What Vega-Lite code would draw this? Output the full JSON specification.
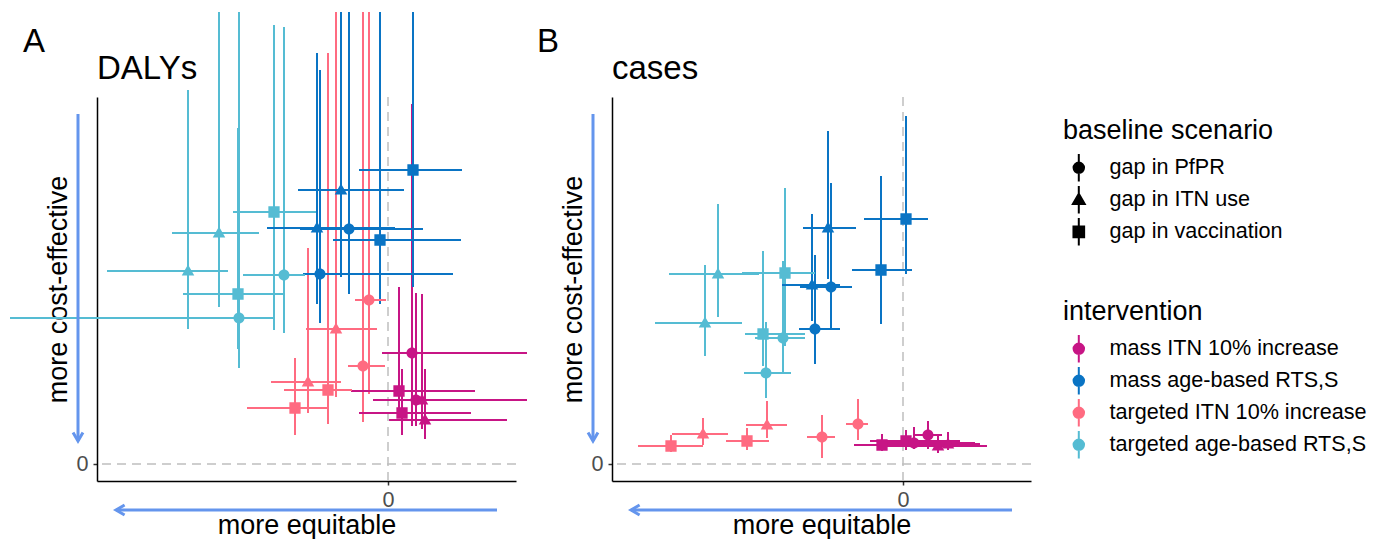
{
  "$schema": "https://vega.github.io/schema/vega-lite/v6.json",
  "padding": {"left": 9, "top": 10, "right": 340, "bottom": 0},
  "autosize": {"type": "pad"},
  "bounds": "flush",
  "spacing": 96,
  "datasets": {
    "pts": [
      {"panel": "DALYs", "intervention": "mass ITN 10% increase", "scenario": "gap in PfPR", "x": 24, "y": 111, "xlo": -6, "xhi": 139, "ylo": 38, "yhi": 360},
      {"panel": "DALYs", "intervention": "mass ITN 10% increase", "scenario": "gap in PfPR", "x": 28, "y": 64, "xlo": -15, "xhi": 139, "ylo": 38, "yhi": 171},
      {"panel": "DALYs", "intervention": "mass ITN 10% increase", "scenario": "gap in vaccination", "x": 11, "y": 73, "xlo": -37, "xhi": 87, "ylo": 53, "yhi": 177},
      {"panel": "DALYs", "intervention": "mass ITN 10% increase", "scenario": "gap in vaccination", "x": 14, "y": 51, "xlo": -29, "xhi": 83, "ylo": 29, "yhi": 95},
      {"panel": "DALYs", "intervention": "mass ITN 10% increase", "scenario": "gap in ITN use", "x": 34, "y": 64, "xlo": -8, "xhi": 104, "ylo": 35, "yhi": 170},
      {"panel": "DALYs", "intervention": "mass ITN 10% increase", "scenario": "gap in ITN use", "x": 37, "y": 44, "xlo": 1, "xhi": 119, "ylo": 25, "yhi": 95},
      {"panel": "DALYs", "intervention": "mass age-based RTS,S", "scenario": "gap in vaccination", "x": 25, "y": 294, "xlo": -29, "xhi": 74, "ylo": 177, "yhi": 452},
      {"panel": "DALYs", "intervention": "mass age-based RTS,S", "scenario": "gap in vaccination", "x": -8, "y": 224, "xlo": -55, "xhi": 73, "ylo": 160, "yhi": 452},
      {"panel": "DALYs", "intervention": "mass age-based RTS,S", "scenario": "gap in ITN use", "x": -47, "y": 274, "xlo": -90, "xhi": 16, "ylo": 187, "yhi": 452},
      {"panel": "DALYs", "intervention": "mass age-based RTS,S", "scenario": "gap in ITN use", "x": -71, "y": 236, "xlo": -121, "xhi": 7, "ylo": 160, "yhi": 411},
      {"panel": "DALYs", "intervention": "mass age-based RTS,S", "scenario": "gap in PfPR", "x": -39, "y": 235, "xlo": -88, "xhi": 35, "ylo": 170, "yhi": 452},
      {"panel": "DALYs", "intervention": "mass age-based RTS,S", "scenario": "gap in PfPR", "x": -68, "y": 190, "xlo": -85, "xhi": 65, "ylo": 141, "yhi": 394},
      {"panel": "DALYs", "intervention": "targeted ITN 10% increase", "scenario": "gap in PfPR", "x": -19, "y": 164, "xlo": -33, "xhi": -2, "ylo": 70, "yhi": 452},
      {"panel": "DALYs", "intervention": "targeted ITN 10% increase", "scenario": "gap in PfPR", "x": -25, "y": 98, "xlo": -40, "xhi": -3, "ylo": 42, "yhi": 452},
      {"panel": "DALYs", "intervention": "targeted ITN 10% increase", "scenario": "gap in ITN use", "x": -52, "y": 135, "xlo": -82, "xhi": -11, "ylo": 67, "yhi": 452},
      {"panel": "DALYs", "intervention": "targeted ITN 10% increase", "scenario": "gap in ITN use", "x": -80, "y": 82, "xlo": -117, "xhi": -47, "ylo": 51, "yhi": 216},
      {"panel": "DALYs", "intervention": "targeted ITN 10% increase", "scenario": "gap in vaccination", "x": -60, "y": 74, "xlo": -104, "xhi": -36, "ylo": 40, "yhi": 411},
      {"panel": "DALYs", "intervention": "targeted ITN 10% increase", "scenario": "gap in vaccination", "x": -93, "y": 56, "xlo": -141, "xhi": -59, "ylo": 29, "yhi": 106},
      {"panel": "DALYs", "intervention": "targeted age-based RTS,S", "scenario": "gap in ITN use", "x": -200, "y": 193, "xlo": -281, "xhi": -160, "ylo": 135, "yhi": 374},
      {"panel": "DALYs", "intervention": "targeted age-based RTS,S", "scenario": "gap in ITN use", "x": -169, "y": 231, "xlo": -216, "xhi": -129, "ylo": 157, "yhi": 452},
      {"panel": "DALYs", "intervention": "targeted age-based RTS,S", "scenario": "gap in vaccination", "x": -114, "y": 252, "xlo": -155, "xhi": -72, "ylo": 134, "yhi": 439},
      {"panel": "DALYs", "intervention": "targeted age-based RTS,S", "scenario": "gap in vaccination", "x": -150, "y": 170, "xlo": -205, "xhi": -105, "ylo": 115, "yhi": 336},
      {"panel": "DALYs", "intervention": "targeted age-based RTS,S", "scenario": "gap in PfPR", "x": -104, "y": 189, "xlo": -145, "xhi": -83, "ylo": 131, "yhi": 437},
      {"panel": "DALYs", "intervention": "targeted age-based RTS,S", "scenario": "gap in PfPR", "x": -149, "y": 146, "xlo": -378, "xhi": -115, "ylo": 96, "yhi": 452},
      {"panel": "cases", "intervention": "mass ITN 10% increase", "scenario": "gap in vaccination", "x": -21, "y": 19, "xlo": -49, "xhi": 37, "ylo": 13, "yhi": 30},
      {"panel": "cases", "intervention": "mass ITN 10% increase", "scenario": "gap in vaccination", "x": 3, "y": 23, "xlo": -33, "xhi": 57, "ylo": 14, "yhi": 34},
      {"panel": "cases", "intervention": "mass ITN 10% increase", "scenario": "gap in PfPR", "x": 11, "y": 21, "xlo": -23, "xhi": 72, "ylo": 15, "yhi": 37},
      {"panel": "cases", "intervention": "mass ITN 10% increase", "scenario": "gap in PfPR", "x": 25, "y": 29, "xlo": 12, "xhi": 39, "ylo": 15, "yhi": 43},
      {"panel": "cases", "intervention": "mass ITN 10% increase", "scenario": "gap in ITN use", "x": 35, "y": 18, "xlo": -23, "xhi": 84, "ylo": 11, "yhi": 28},
      {"panel": "cases", "intervention": "mass ITN 10% increase", "scenario": "gap in ITN use", "x": 45, "y": 20, "xlo": 2, "xhi": 77, "ylo": 14, "yhi": 32},
      {"panel": "cases", "intervention": "mass age-based RTS,S", "scenario": "gap in vaccination", "x": 3, "y": 245, "xlo": -39, "xhi": 25, "ylo": 190, "yhi": 348},
      {"panel": "cases", "intervention": "mass age-based RTS,S", "scenario": "gap in vaccination", "x": -22, "y": 194, "xlo": -51, "xhi": 9, "ylo": 140, "yhi": 288},
      {"panel": "cases", "intervention": "mass age-based RTS,S", "scenario": "gap in ITN use", "x": -75, "y": 236, "xlo": -100, "xhi": -47, "ylo": 185, "yhi": 333},
      {"panel": "cases", "intervention": "mass age-based RTS,S", "scenario": "gap in ITN use", "x": -91, "y": 179, "xlo": -121, "xhi": -63, "ylo": 143, "yhi": 250},
      {"panel": "cases", "intervention": "mass age-based RTS,S", "scenario": "gap in PfPR", "x": -72, "y": 177, "xlo": -103, "xhi": -51, "ylo": 134, "yhi": 281},
      {"panel": "cases", "intervention": "mass age-based RTS,S", "scenario": "gap in PfPR", "x": -88, "y": 135, "xlo": -104, "xhi": -63, "ylo": 100, "yhi": 209},
      {"panel": "cases", "intervention": "targeted ITN 10% increase", "scenario": "gap in vaccination", "x": -232, "y": 18, "xlo": -265, "xhi": -200, "ylo": 12, "yhi": 29},
      {"panel": "cases", "intervention": "targeted ITN 10% increase", "scenario": "gap in vaccination", "x": -156, "y": 23, "xlo": -177, "xhi": -134, "ylo": 14, "yhi": 36},
      {"panel": "cases", "intervention": "targeted ITN 10% increase", "scenario": "gap in ITN use", "x": -200, "y": 30, "xlo": -231, "xhi": -175, "ylo": 19, "yhi": 46},
      {"panel": "cases", "intervention": "targeted ITN 10% increase", "scenario": "gap in ITN use", "x": -136, "y": 39, "xlo": -157, "xhi": -116, "ylo": 26, "yhi": 63},
      {"panel": "cases", "intervention": "targeted ITN 10% increase", "scenario": "gap in PfPR", "x": -81, "y": 27, "xlo": -96, "xhi": -68, "ylo": 6, "yhi": 49},
      {"panel": "cases", "intervention": "targeted ITN 10% increase", "scenario": "gap in PfPR", "x": -45, "y": 40, "xlo": -57, "xhi": -35, "ylo": 24, "yhi": 65},
      {"panel": "cases", "intervention": "targeted age-based RTS,S", "scenario": "gap in ITN use", "x": -185, "y": 190, "xlo": -234, "xhi": -144, "ylo": 147, "yhi": 260},
      {"panel": "cases", "intervention": "targeted age-based RTS,S", "scenario": "gap in ITN use", "x": -198, "y": 141, "xlo": -248, "xhi": -161, "ylo": 108, "yhi": 199},
      {"panel": "cases", "intervention": "targeted age-based RTS,S", "scenario": "gap in vaccination", "x": -118, "y": 191, "xlo": -161, "xhi": -88, "ylo": 118, "yhi": 276},
      {"panel": "cases", "intervention": "targeted age-based RTS,S", "scenario": "gap in vaccination", "x": -140, "y": 130, "xlo": -158, "xhi": -98, "ylo": 98, "yhi": 213},
      {"panel": "cases", "intervention": "targeted age-based RTS,S", "scenario": "gap in PfPR", "x": -120, "y": 126, "xlo": -148, "xhi": -98, "ylo": 91, "yhi": 203},
      {"panel": "cases", "intervention": "targeted age-based RTS,S", "scenario": "gap in PfPR", "x": -137, "y": 91, "xlo": -159, "xhi": -112, "ylo": 66, "yhi": 142}
    ]
  },
  "resolve": {"scale": {"color": "shared", "shape": "shared"}},
  "hconcat": [
    {
      "width": 419, "height": 384,
      "title": {"text": "DALYs", "offset": -75},
      "layer": [
        {"data": {"values": [{}]}, "mark": {"type": "rule", "color": "#BEBEBE", "strokeWidth": 1.5, "strokeDash": [9, 6]},
         "encoding": {"y": {"datum": 0, "type": "quantitative", "scale": {"domain": [-17, 367], "nice": false, "zero": false}, "axis": {"values": [0], "title": "more cost-effective"}}}},
        {"data": {"values": [{}]}, "mark": {"type": "rule", "color": "#BEBEBE", "strokeWidth": 1.5, "strokeDash": [9, 6]},
         "encoding": {"x": {"datum": 0, "type": "quantitative", "scale": {"domain": [-291, 128], "nice": false, "zero": false}, "axis": {"values": [0], "title": "more equitable"}}}},
        {"data": {"name": "pts"}, "transform": [{"filter": "datum.panel === 'DALYs'"}],
         "mark": {"type": "rule", "strokeWidth": 2, "clip": false},
         "encoding": {"x": {"field": "x", "type": "quantitative"}, "y": {"field": "ylo", "type": "quantitative"}, "y2": {"field": "yhi"},
           "color": {"field": "intervention", "type": "nominal", "title": "intervention",
             "scale": {"domain": ["mass ITN 10% increase", "mass age-based RTS,S", "targeted ITN 10% increase", "targeted age-based RTS,S"], "range": ["#C71585", "#0A74C4", "#FF6B81", "#55BCD3"]},
             "legend": {"orient": "none", "legendX": 966, "legendY": 202,
               "encode": {"symbols": {"update": {
                 "shape": {"value": "M0,-2.5L0,2.5M-0.95,0A0.95,0.95,0,1,1,0.95,0A0.95,0.95,0,1,1,-0.95,0Z"},
                 "stroke": {"scale": "color", "field": "value"}, "fill": {"scale": "color", "field": "value"},
                 "strokeWidth": {"value": 2}, "size": {"value": 121}, "opacity": {"value": 1}}}}}}}},
        {"data": {"name": "pts"}, "transform": [{"filter": "datum.panel === 'DALYs'"}],
         "mark": {"type": "rule", "strokeWidth": 2, "clip": false},
         "encoding": {"y": {"field": "y", "type": "quantitative"}, "x": {"field": "xlo", "type": "quantitative"}, "x2": {"field": "xhi"},
           "color": {"field": "intervention", "type": "nominal"}}},
        {"data": {"name": "pts"}, "transform": [{"filter": "datum.panel === 'DALYs'"}],
         "mark": {"type": "point", "filled": true, "opacity": 1, "size": 135, "clip": false},
         "encoding": {"x": {"field": "x", "type": "quantitative"}, "y": {"field": "y", "type": "quantitative"},
           "color": {"field": "intervention", "type": "nominal"},
           "shape": {"field": "scenario", "type": "nominal", "title": "baseline scenario",
             "scale": {"domain": ["gap in PfPR", "gap in ITN use", "gap in vaccination"],
               "range": ["M0,-2.5L0,2.5M-0.95,0A0.95,0.95,0,1,1,0.95,0A0.95,0.95,0,1,1,-0.95,0Z", "M0,-2.5L0,2.5M0,-1.12L1.08,0.76L-1.08,0.76Z", "M0,-2.5L0,2.5M-0.97,-0.97H0.97V0.97H-0.97Z"]},
             "legend": {"orient": "none", "legendX": 966, "legendY": 21,
               "symbolStrokeColor": "black", "symbolFillColor": "black", "symbolStrokeWidth": 2, "symbolSize": 121, "symbolOpacity": 1,
               "encode": {"symbols": {"update": {
                 "stroke": {"value": "black"}, "fill": {"value": "black"},
                 "strokeWidth": {"value": 2}, "size": {"value": 121}, "opacity": {"value": 1}}}}}}}},
        {"data": {"values": [{}]}, "mark": {"type": "rule", "color": "#6495ED", "strokeWidth": 3, "clip": false},
         "encoding": {"x": {"datum": -310, "type": "quantitative"}, "y": {"datum": 350, "type": "quantitative"}, "y2": {"datum": 23}}},
        {"data": {"values": [{}]}, "mark": {"type": "rule", "color": "#6495ED", "strokeWidth": 3, "clip": false},
         "encoding": {"y": {"datum": -46, "type": "quantitative"}, "x": {"datum": 109, "type": "quantitative"}, "x2": {"datum": -272}}},
        {"data": {"values": [{}]}, "mark": {"type": "point", "filled": false, "color": "#6495ED", "strokeWidth": 3, "opacity": 1, "size": 121, "clip": false, "shape": "M-0.9,-1.56L0,0L0.9,-1.56"},
         "encoding": {"x": {"datum": -310, "type": "quantitative"}, "y": {"datum": 23, "type": "quantitative"}}},
        {"data": {"values": [{}]}, "mark": {"type": "point", "filled": false, "color": "#6495ED", "strokeWidth": 3, "opacity": 1, "size": 121, "clip": false, "shape": "M1.56,-0.9L0,0L1.56,0.9"},
         "encoding": {"x": {"datum": -272, "type": "quantitative"}, "y": {"datum": -46, "type": "quantitative"}}},
        {"data": {"values": [{}]}, "mark": {"type": "text", "text": "A", "fontSize": 33, "align": "left", "baseline": "alphabetic", "color": "black", "clip": false},
         "encoding": {"x": {"datum": -365, "type": "quantitative"}, "y": {"datum": 412, "type": "quantitative"}}}
      ]
    },
    {
      "width": 419, "height": 384,
      "title": {"text": "cases", "offset": -60},
      "layer": [
        {"data": {"values": [{}]}, "mark": {"type": "rule", "color": "#BEBEBE", "strokeWidth": 1.5, "strokeDash": [9, 6]},
         "encoding": {"y": {"datum": 0, "type": "quantitative", "scale": {"domain": [-17, 367], "nice": false, "zero": false}, "axis": {"values": [0], "title": "more cost-effective"}}}},
        {"data": {"values": [{}]}, "mark": {"type": "rule", "color": "#BEBEBE", "strokeWidth": 1.5, "strokeDash": [9, 6]},
         "encoding": {"x": {"datum": 0, "type": "quantitative", "scale": {"domain": [-291, 128], "nice": false, "zero": false}, "axis": {"values": [0], "title": "more equitable"}}}},
        {"data": {"name": "pts"}, "transform": [{"filter": "datum.panel === 'cases'"}],
         "mark": {"type": "rule", "strokeWidth": 2, "clip": false},
         "encoding": {"x": {"field": "x", "type": "quantitative"}, "y": {"field": "ylo", "type": "quantitative"}, "y2": {"field": "yhi"},
           "color": {"field": "intervention", "type": "nominal"}}},
        {"data": {"name": "pts"}, "transform": [{"filter": "datum.panel === 'cases'"}],
         "mark": {"type": "rule", "strokeWidth": 2, "clip": false},
         "encoding": {"y": {"field": "y", "type": "quantitative"}, "x": {"field": "xlo", "type": "quantitative"}, "x2": {"field": "xhi"},
           "color": {"field": "intervention", "type": "nominal"}}},
        {"data": {"name": "pts"}, "transform": [{"filter": "datum.panel === 'cases'"}],
         "mark": {"type": "point", "filled": true, "opacity": 1, "size": 135, "clip": false},
         "encoding": {"x": {"field": "x", "type": "quantitative"}, "y": {"field": "y", "type": "quantitative"},
           "color": {"field": "intervention", "type": "nominal"},
           "shape": {"field": "scenario", "type": "nominal"}}},
        {"data": {"values": [{}]}, "mark": {"type": "rule", "color": "#6495ED", "strokeWidth": 3, "clip": false},
         "encoding": {"x": {"datum": -310, "type": "quantitative"}, "y": {"datum": 350, "type": "quantitative"}, "y2": {"datum": 23}}},
        {"data": {"values": [{}]}, "mark": {"type": "rule", "color": "#6495ED", "strokeWidth": 3, "clip": false},
         "encoding": {"y": {"datum": -46, "type": "quantitative"}, "x": {"datum": 109, "type": "quantitative"}, "x2": {"datum": -272}}},
        {"data": {"values": [{}]}, "mark": {"type": "point", "filled": false, "color": "#6495ED", "strokeWidth": 3, "opacity": 1, "size": 121, "clip": false, "shape": "M-0.9,-1.56L0,0L0.9,-1.56"},
         "encoding": {"x": {"datum": -310, "type": "quantitative"}, "y": {"datum": 23, "type": "quantitative"}}},
        {"data": {"values": [{}]}, "mark": {"type": "point", "filled": false, "color": "#6495ED", "strokeWidth": 3, "opacity": 1, "size": 121, "clip": false, "shape": "M1.56,-0.9L0,0L1.56,0.9"},
         "encoding": {"x": {"datum": -272, "type": "quantitative"}, "y": {"datum": -46, "type": "quantitative"}}},
        {"data": {"values": [{}]}, "mark": {"type": "text", "text": "B", "fontSize": 33, "align": "left", "baseline": "alphabetic", "color": "black", "clip": false},
         "encoding": {"x": {"datum": -366, "type": "quantitative"}, "y": {"datum": 412, "type": "quantitative"}}}
      ]
    }
  ],
  "config": {
    "font": "Liberation Sans",
    "view": {"stroke": null},
    "axis": {"grid": false, "domainColor": "black", "domainWidth": 1.5, "tickColor": "#333333", "tickWidth": 1.5, "tickSize": 4,
      "labelFont": "Liberation Sans", "labelFontSize": 21.6, "labelColor": "#4D4D4D",
      "titleFont": "Liberation Sans", "titleFontSize": 27, "titleFontWeight": "normal", "titleColor": "black"},
    "axisX": {"labelPadding": 4, "titlePadding": 2},
    "axisY": {"labelPadding": 5, "titlePadding": 3},
    "title": {"font": "Liberation Sans", "fontSize": 33, "fontWeight": "normal", "anchor": "start", "frame": "group", "color": "black"},
    "legend": {"titleFont": "Liberation Sans", "titleFontSize": 27, "titleFontWeight": "normal", "titleColor": "black",
      "labelFont": "Liberation Sans", "labelFontSize": 21.6, "labelColor": "black", "titleLimit": 500, "labelLimit": 500,
      "symbolOffset": 5, "labelOffset": 20, "rowPadding": -4, "titlePadding": 12, "padding": 0, "symbolSize": 121}
  }
}
